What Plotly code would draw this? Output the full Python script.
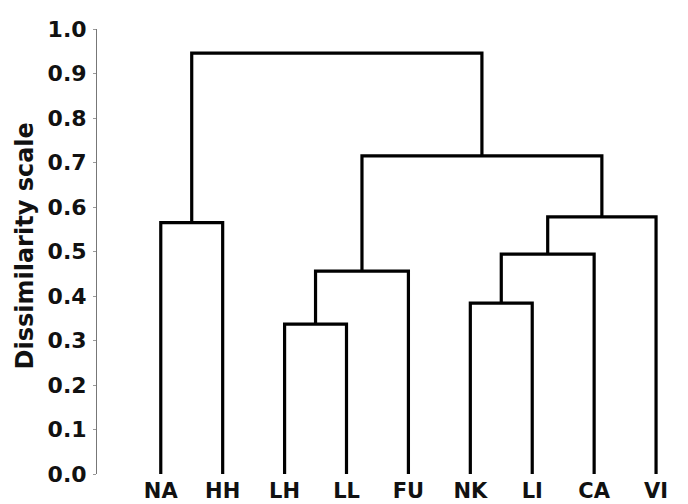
import plotly.graph_objects as go

# Leaves (left to right) and merges: (left member, right member, height)
leaves = ["NA", "HH", "LH", "LL", "FU", "NK", "LI", "CA", "VI"]
merge_left = ["NA", "LH", "C2", "NK", "C4", "C5", "C3", "C1"]
merge_right = ["HH", "LL", "FU", "LI", "CA", "VI", "C6", "C7"]
merge_height = [0.565, 0.337, 0.456, 0.384, 0.494, 0.578, 0.715, 0.946]
merge_names = ["C1", "C2", "C3", "C4", "C5", "C6", "C7", "C8"]

y_ticks = [0.0, 0.1, 0.2, 0.3, 0.4, 0.5, 0.6, 0.7, 0.8, 0.9, 1.0]

pos = {name: i + 1 for i, name in enumerate(leaves)}
hgt = {name: 0.0 for name in leaves}

xs, ys = [], []
for name, a, b, h in zip(merge_names, merge_left, merge_right, merge_height):
    xa, xb = pos[a], pos[b]
    xs += [xa, xa, xb, xb, None]
    ys += [hgt[a], h, h, hgt[b], None]
    pos[name] = (xa + xb) / 2
    hgt[name] = h

fig = go.Figure()
fig.add_trace(go.Scatter(x=xs, y=ys, mode="lines",
                         line=dict(color="black", width=3.2),
                         hoverinfo="skip", showlegend=False))

font = "DejaVu Sans"
fig.update_layout(
    width=680, height=496,
    margin=dict(l=89, r=1, t=21, b=30),
    paper_bgcolor="white", plot_bgcolor="white",
    showlegend=False,
    xaxis=dict(range=[-0.03, 9.5], tickmode="array",
               tickvals=list(range(1, len(leaves) + 1)), ticktext=leaves,
               showline=False, showgrid=False, zeroline=False, ticks="",
               automargin=False,
               tickfont=dict(family=font, size=21, color="#111111", weight="bold"),
               ticklabelstandoff=2),
    yaxis=dict(range=[0, 1.0], tickmode="array", tickvals=y_ticks,
               ticktext=[f"{v:.1f}" for v in y_ticks],
               showline=True, linecolor="#777777", linewidth=1,
               ticks="outside", ticklen=3, tickcolor="#999999",
               showgrid=False, zeroline=False, automargin=False,
               tickfont=dict(family=font, size=22, color="#111111", weight="bold"),
               ticklabelstandoff=2),
    annotations=[dict(text="<b>Dissimilarity scale</b>", textangle=-90,
                      xref="paper", yref="paper", x=0, y=0.5,
                      xanchor="center", yanchor="middle", xshift=-73, yshift=5,
                      showarrow=False,
                      font=dict(family=font, size=24, color="#111111"))],
)

fig.write_html("out.html")
